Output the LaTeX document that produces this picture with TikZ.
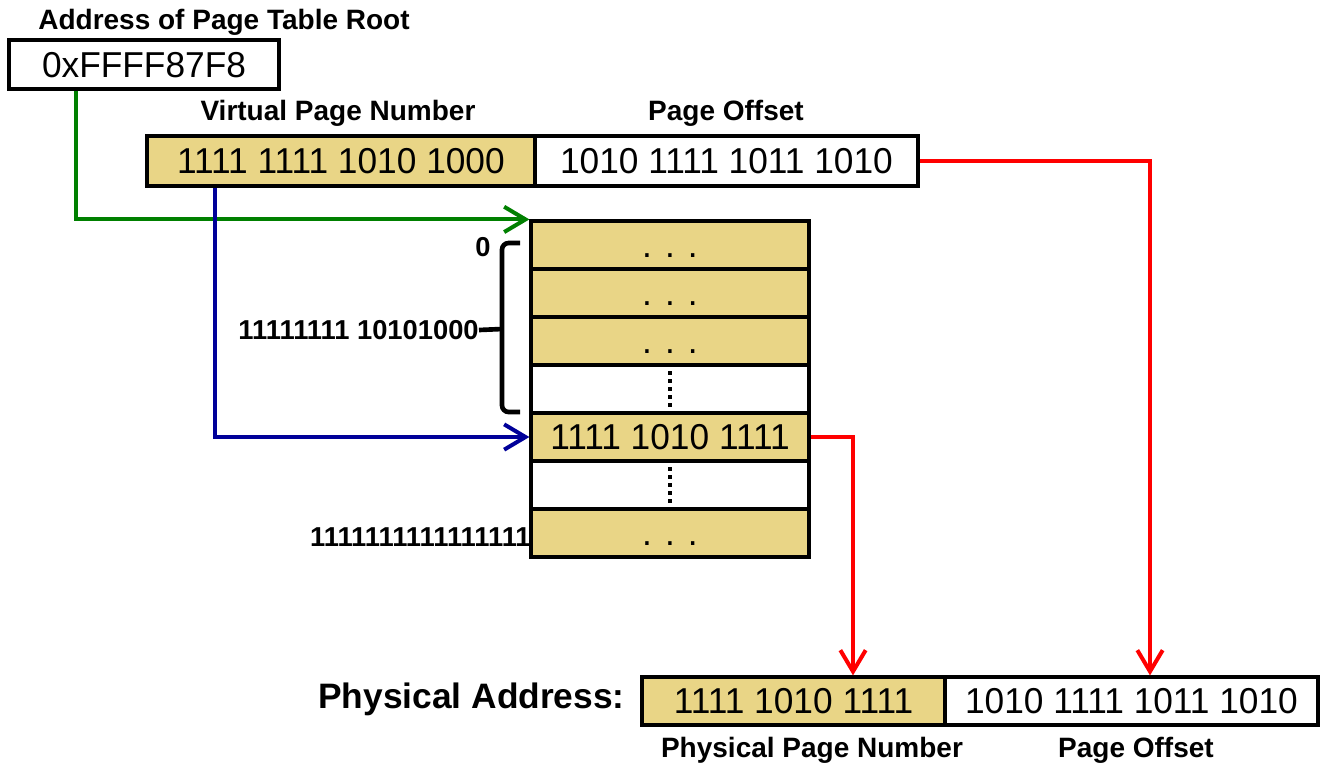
\documentclass[tikz,border=0pt]{standalone}
\usepackage{fontspec}
\setmainfont{Liberation Sans}
\newfontfamily\cellfont[FakeStretch=0.98]{Liberation Sans}
\usetikzlibrary{arrows.meta,calc}
\definecolor{tan}{RGB}{233,213,134}
\definecolor{rootgreen}{RGB}{0,128,0}
\definecolor{idxblue}{RGB}{0,0,153}
\definecolor{offred}{RGB}{255,0,0}
\begin{document}
\begin{tikzpicture}[x=0.75pt,y=-0.75pt,
  field/.style 2 args={draw=black,line width=2.4pt,rectangle,inner sep=0pt,
    minimum width=#1*0.75pt,minimum height=#2*0.75pt,
    font=\cellfont\fontsize{27}{31}\selectfont,text height=19.3pt,text depth=0pt},
  tanfield/.style 2 args={field={#1}{#2},fill=tan},
  label/.style={font=\bfseries\fontsize{21}{24}\selectfont,inner sep=0pt},
  idx/.style={font=\bfseries\fontsize{20.5}{24}\selectfont,inner sep=0pt},
  conn/.style={line width=3pt,-{Straight Barb[length=16pt,width=19pt]}},
  dotline/.style={line width=3pt,dash pattern=on 3pt off 3pt},
]
\useasboundingbox (0,0) rectangle (1320,765);

% page table root register
\node[label] (rootlbl) at (224,22) {Address of Page Table Root};
\node[field={270}{49}] (root) at (144,64.5) {0xFFFF87F8};

% virtual address
\node[label] (vpnlbl) at (338,113) {Virtual Page Number};
\node[label] (offlbl) at (726,113) {Page Offset};
\node[tanfield={388}{50}] (vpn) at (341,161) {1111 1111 1010 1000};
\node[field={383}{50}] (off) at (726.5,161) {1010 1111 1011 1010};

% page table
\node[tanfield={278}{48}] (r1) at (670,245) {. . .};
\node[tanfield={278}{48}] (r2) at (670,293) {. . .};
\node[tanfield={278}{48}] (r3) at (670,341) {. . .};
\node[field={278}{48}]    (r4) at (670,389) {};
\node[tanfield={278}{48}] (r5) at (670,437) {1111 1010 1111};
\node[field={278}{48}]    (r6) at (670,485) {};
\node[tanfield={278}{48}] (r7) at (670,533) {. . .};
\draw[dotline] (r4.north) -- (r4.south);
\draw[dotline] (r6.north) -- (r6.south);

% index labels and bracket
\node[idx] (i0) at (483,247) {0};
\node[idx,anchor=east] (imid) at (479,330) {11111111 10101000};
\node[idx,anchor=east] (ilast) at (531,537) {1111111111111111};
\draw[line width=3.5pt,rounded corners=5pt] (520,243) -- (502,243) -- (502,412) -- (520,412);
\draw[line width=3.5pt] (imid.east) -- (502,329);

% physical address
\node[font=\bfseries\fontsize{26.5}{30}\selectfont,inner sep=0pt,anchor=east] (palbl) at (625,699) {Physical Address:};
\node[tanfield={303}{48}] (ppn) at (793.5,701) {1111 1010 1111};
\node[field={373}{48}] (poff) at (1131.5,701) {1010 1111 1011 1010};
\node[label] (ppnlbl) at (812,750) {Physical Page Number};
\node[label] (pofflbl) at (1136,750) {Page Offset};

% connectors
\draw[conn,rootgreen] ([xshift=69*0.75pt]root.south west) |- (r1.north west);
\draw[conn,idxblue] ([xshift=70*0.75pt]vpn.south west) |- (r5.west);
\draw[conn,offred] (off.east) -| ([xshift=18.5*0.75pt]poff.north);
\draw[conn,offred] (r5.east) -| ([xshift=59.5*0.75pt]ppn.north);
\end{tikzpicture}
\end{document}
